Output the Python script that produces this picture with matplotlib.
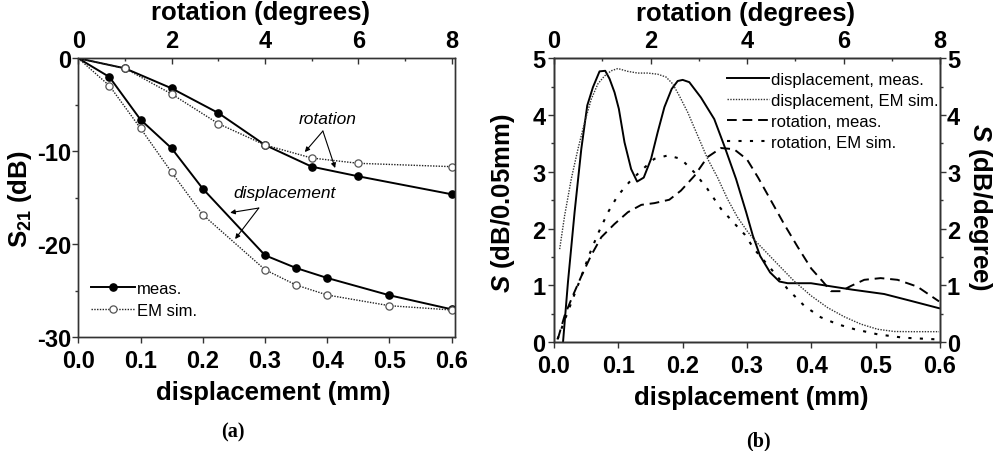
import matplotlib
matplotlib.use("Agg")
import matplotlib.pyplot as plt
from matplotlib.ticker import MultipleLocator, FormatStrFormatter

# ---------------- data ----------------
# panel (a): S21 vs displacement / rotation
disp_mm = [0.0, 0.05, 0.1, 0.15, 0.2, 0.3, 0.35, 0.4, 0.5, 0.6]
disp_meas = [0.0, -2.01, -6.6, -9.68, -14.02, -21.18, -22.55, -23.62, -25.48, -26.99]
disp_sim = [0.0, -2.95, -7.53, -12.26, -16.82, -22.73, -24.38, -25.45, -26.6, -27.06]

rot_deg = [0, 1, 2, 3, 4, 5, 6, 8]
rot_meas = [0.0, -1.08, -3.23, -5.88, -9.32, -11.65, -12.69, -14.62]
rot_sim = [0.0, -1.08, -3.84, -7.03, -9.32, -10.72, -11.29, -11.65]

# panel (b): sensitivity curves
sd_meas_x = [0.014, 0.0217, 0.032, 0.0424, 0.0517, 0.0605, 0.0708, 0.0796, 0.0863, 0.0941,
             0.1008, 0.1096, 0.1199, 0.1292, 0.1395, 0.1509, 0.1612, 0.1716, 0.1829, 0.1922,
             0.2, 0.2103, 0.2284, 0.2491, 0.265, 0.283, 0.2987, 0.309, 0.3204, 0.3359,
             0.3504, 0.3633, 0.3995, 0.4305, 0.4636, 0.5132, 0.5545, 0.5985]
sd_meas_y = [0.0, 1.06, 2.29, 3.40, 4.17, 4.49, 4.77, 4.78, 4.64, 4.40,
             4.11, 3.52, 3.05, 2.83, 2.90, 3.23, 3.70, 4.14, 4.46, 4.60,
             4.62, 4.58, 4.31, 3.93, 3.45, 2.875, 2.29, 1.88, 1.52, 1.23,
             1.07, 1.04, 1.04, 0.985, 0.927, 0.85, 0.73, 0.60]

sd_sim_x = [0.0088, 0.0165, 0.0269, 0.0372, 0.0475, 0.0579, 0.0682, 0.0786, 0.0889, 0.0992,
            0.1147, 0.1302, 0.1457, 0.1612, 0.1742, 0.1845, 0.1948, 0.2078, 0.2233, 0.2388,
            0.2543, 0.2698, 0.2853, 0.3008, 0.3116, 0.327, 0.3473, 0.373, 0.3995, 0.4253,
            0.4511, 0.477, 0.5029, 0.5287, 0.5545, 0.5985]
sd_sim_y = [1.64, 2.23, 2.88, 3.40, 3.87, 4.28, 4.55, 4.69, 4.78, 4.82,
            4.77, 4.74, 4.74, 4.72, 4.67, 4.55, 4.34, 4.05, 3.64, 3.23,
            2.90, 2.52, 2.20, 1.95, 1.80, 1.62, 1.38, 1.08, 0.82, 0.61,
            0.45, 0.32, 0.23, 0.19, 0.187, 0.187]

sr_meas_x = [0.08, 0.22, 0.39, 0.57, 0.77, 0.98, 1.25, 1.53, 1.81, 2.08,
             2.39, 2.63, 2.91, 3.18, 3.46, 3.73, 4.0, 4.23, 4.5, 4.77,
             5.05, 5.33, 5.57, 5.74, 5.95, 6.15, 6.43, 6.77, 7.12, 7.53, 7.98]
sr_meas_y = [0.06, 0.47, 0.82, 1.17, 1.53, 1.85, 2.08, 2.29, 2.42, 2.45,
             2.51, 2.67, 2.93, 3.26, 3.42, 3.40, 3.22, 2.90, 2.49, 2.08,
             1.68, 1.30, 1.07, 0.90, 0.90, 0.99, 1.10, 1.13, 1.10, 0.98, 0.72]

sr_sim_x = [0.07, 0.36, 0.57, 0.74, 0.91, 1.12, 1.32, 1.56, 1.84, 2.08,
            2.36, 2.63, 2.91, 3.18, 3.46, 3.73, 3.95, 4.15, 4.5, 4.84,
            5.19, 5.53, 5.87, 6.23, 6.71, 7.25, 7.97]
sr_sim_y = [0.05, 0.70, 1.17, 1.56, 1.91, 2.29, 2.58, 2.82, 3.05, 3.23,
            3.29, 3.23, 2.99, 2.70, 2.35, 2.10, 1.90, 1.64, 1.29, 0.94,
            0.64, 0.44, 0.32, 0.23, 0.14, 0.08, 0.05]

legend_b = ["displacement, meas.", "displacement, EM sim.", "rotation, meas.", "rotation, EM sim."]

# ---------------- style ----------------
plt.rcParams.update({
    "font.family": ["Liberation Sans", "DejaVu Sans"],
    "font.weight": "bold",
    "axes.unicode_minus": False,
    "mathtext.fontset": "custom",
    "mathtext.rm": "Liberation Sans:bold",
    "mathtext.it": "Liberation Sans:italic:bold",
    "mathtext.bf": "Liberation Sans:bold",
})
SPC = "#333333"
TICK_FS = 17
LAB_FS = 18.5

fig = plt.figure(figsize=(10, 4.52), dpi=100)


def spines(ax):
    for s in ax.spines.values():
        s.set_color(SPC)
        s.set_linewidth(1.0)


# ================= panel (a) =================
ax1 = fig.add_axes([0.0783, 0.2515, 0.3767, 0.6173])
ax1t = ax1.twiny()

mk = list(range(1, len(disp_mm)))
ax1.plot(disp_mm, disp_meas, "-", color="k", lw=1.4, marker="o", ms=5.2,
         mfc="k", mec="k", markevery=mk, label="meas.")
ax1.plot(disp_mm, disp_sim, ls=(0, (1, 1)), color="#222222", lw=1.0, marker="o", ms=5.2,
         mfc="white", mec="#555555", mew=0.9, markevery=mk, label="EM sim.")
mk2 = list(range(1, len(rot_deg)))
ax1t.plot(rot_deg, rot_meas, "-", color="k", lw=1.4, marker="o", ms=5.2,
          mfc="k", mec="k", markevery=mk2)
ax1t.plot(rot_deg, rot_sim, ls=(0, (1, 1)), color="#222222", lw=1.0, marker="o", ms=5.2,
          mfc="white", mec="#555555", mew=0.9, markevery=mk2)

ax1.set_xlim(0, 0.6053)
ax1.set_ylim(-30, 0)
ax1t.set_xlim(0, 8.07)

ax1.xaxis.set_major_locator(MultipleLocator(0.1))
ax1.xaxis.set_major_formatter(FormatStrFormatter("%.1f"))
ax1.yaxis.set_major_locator(MultipleLocator(10))
ax1.yaxis.set_minor_locator(MultipleLocator(5))
ax1.yaxis.set_major_formatter(FormatStrFormatter("%d"))
ax1t.xaxis.set_major_locator(MultipleLocator(2))
ax1t.xaxis.set_minor_locator(MultipleLocator(1))
ax1t.xaxis.set_major_formatter(FormatStrFormatter("%d"))

ax1.tick_params(axis="x", which="both", direction="out", top=False, length=4, width=1,
                color=SPC, pad=4.5, labelsize=TICK_FS)
ax1.tick_params(axis="y", which="major", direction="out", right=False, length=4, width=1,
                color=SPC, pad=1, labelsize=TICK_FS)
ax1.tick_params(axis="y", which="minor", direction="out", right=False, length=2.5, width=1,
                color=SPC)
ax1t.tick_params(axis="x", which="major", direction="in", length=4, width=1, color=SPC,
                 pad=4.4, labelsize=TICK_FS)
ax1t.tick_params(axis="x", which="minor", direction="in", length=2.5, width=1, color=SPC)
spines(ax1)
spines(ax1t)

ax1.set_xlabel("displacement (mm)", fontsize=LAB_FS, fontweight="bold")
ax1.xaxis.set_label_coords(0.518, -0.196)
ax1.xaxis.label.set_va("center")
ax1t.set_xlabel("rotation (degrees)", fontsize=LAB_FS, fontweight="bold")
ax1t.xaxis.set_label_coords(0.485, 1.165)
ax1t.xaxis.label.set_va("center")
ax1.set_ylabel(r"S$_{\mathrm{21}}$ (dB)", fontsize=LAB_FS, fontweight="bold")
ax1.yaxis.set_label_coords(-0.155, 0.5)
ax1.yaxis.label.set_va("center")

ax1.legend(loc="upper left", bbox_to_anchor=(0.035, 0.203), frameon=False,
           prop={"size": 12, "weight": "normal"}, handlelength=2.6,
           handletextpad=0.15, labelspacing=0.45, borderpad=0, borderaxespad=0)

arr = dict(arrowstyle="-|>", lw=0.8, color="k", mutation_scale=7, shrinkA=0, shrinkB=0)
ax1.text(0.40, -6.42, "rotation", fontsize=12.5, style="italic", fontweight="normal",
         ha="center", va="center")
ax1.annotate("", xy=(0.364, -10.08), xytext=(0.393, -7.82), arrowprops=arr)
ax1.annotate("", xy=(0.4127, -11.8), xytext=(0.393, -7.82), arrowprops=arr)
ax1.text(0.3307, -14.38, "displacement", fontsize=12.5, style="italic", fontweight="normal",
         ha="center", va="center")
ax1.annotate("", xy=(0.244, -16.6), xytext=(0.29, -16.1), arrowprops=arr)
ax1.annotate("", xy=(0.252, -19.43), xytext=(0.29, -16.1), arrowprops=arr)

fig.text(0.233, 0.0431, "(a)", fontsize=14.5, fontweight="bold",
         family=["Liberation Serif", "DejaVu Serif"], ha="center", va="center")

# ================= panel (b) =================
ax2 = fig.add_axes([0.554, 0.2405, 0.386, 0.6283])
ax2t = ax2.twiny()
ax2r = ax2.twinx()

h1, = ax2.plot(sd_meas_x, sd_meas_y, "-", color="k", lw=1.4)
h2, = ax2.plot(sd_sim_x, sd_sim_y, ls=(0, (1, 1)), color="#333333", lw=1.0)
h3, = ax2t.plot(sr_meas_x, sr_meas_y, ls=(0, (5, 3)), color="k", lw=1.4)
h4, = ax2t.plot(sr_sim_x, sr_sim_y, ls=(0, (1.5, 4)), color="k", lw=1.5)

ax2.set_xlim(0, 0.6)
ax2.set_ylim(0, 5)
ax2t.set_xlim(0, 8)
ax2r.set_ylim(0, 5)

ax2.xaxis.set_major_locator(MultipleLocator(0.1))
ax2.xaxis.set_major_formatter(FormatStrFormatter("%.1f"))
for a in (ax2, ax2r):
    a.yaxis.set_major_locator(MultipleLocator(1))
    a.yaxis.set_minor_locator(MultipleLocator(0.5))
    a.yaxis.set_major_formatter(FormatStrFormatter("%d"))
ax2t.xaxis.set_major_locator(MultipleLocator(2))
ax2t.xaxis.set_minor_locator(MultipleLocator(1))
ax2t.xaxis.set_major_formatter(FormatStrFormatter("%d"))

ax2.tick_params(axis="x", which="both", direction="out", top=False, length=4, width=1,
                color=SPC, pad=4.5, labelsize=TICK_FS)
ax2.tick_params(axis="y", which="major", direction="out", right=False, length=4, width=1,
                color=SPC, pad=2, labelsize=TICK_FS)
ax2.tick_params(axis="y", which="minor", direction="out", right=False, length=2.5, width=1,
                color=SPC)
ax2r.tick_params(axis="y", which="major", direction="out", length=4, width=1, color=SPC,
                 pad=1, labelsize=TICK_FS)
ax2r.tick_params(axis="y", which="minor", direction="out", length=2.5, width=1, color=SPC)
ax2t.tick_params(axis="x", which="major", direction="in", length=4, width=1, color=SPC,
                 pad=4.4, labelsize=TICK_FS)
ax2t.tick_params(axis="x", which="minor", direction="in", length=2.5, width=1, color=SPC)
for a in (ax2, ax2t, ax2r):
    spines(a)

ax2.set_xlabel("displacement (mm)", fontsize=LAB_FS, fontweight="bold")
ax2.xaxis.set_label_coords(0.512, -0.193)
ax2.xaxis.label.set_va("center")
ax2t.set_xlabel("rotation (degrees)", fontsize=LAB_FS, fontweight="bold")
ax2t.xaxis.set_label_coords(0.497, 1.16)
ax2t.xaxis.label.set_va("center")
ax2.set_ylabel(r"$\mathit{S}$ (dB/0.05mm)", fontsize=LAB_FS, fontweight="bold")
ax2.yaxis.set_label_coords(-0.132, 0.494)
ax2.yaxis.label.set_va("center")
ax2r.set_ylabel(r"$\mathit{S}$ (dB/degree)", fontsize=LAB_FS, fontweight="bold", rotation=270)
ax2r.yaxis.set_label_coords(1.104, 0.48)
ax2r.yaxis.label.set_va("center")
ax2r.yaxis.label.set_ha("center")

ax2r.legend([h1, h2, h3, h4], legend_b, loc="upper left", bbox_to_anchor=(0.448, 0.951),
            frameon=False, prop={"size": 12, "weight": "normal"}, handlelength=2.5,
            handletextpad=0.15, labelspacing=0.35, borderpad=0, borderaxespad=0)

fig.text(0.758, 0.0228, "(b)", fontsize=14.5, fontweight="bold",
         family=["Liberation Serif", "DejaVu Serif"], ha="center", va="center")

fig.savefig("out.png", dpi=100)
